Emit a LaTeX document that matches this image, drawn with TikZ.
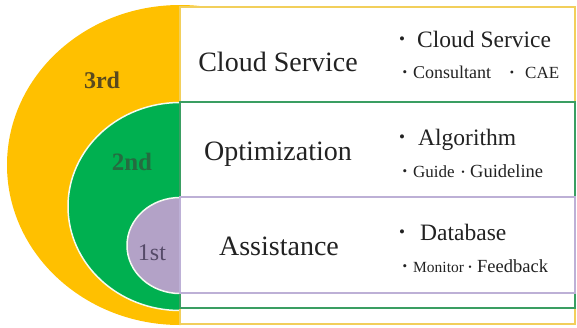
\documentclass[tikz,border=0pt]{standalone}
\usepackage{fontspec}
\setmainfont{Liberation Serif}
\definecolor{gold}{HTML}{FFC000}
\definecolor{grn}{HTML}{00B050}
\definecolor{purp}{HTML}{B3A2C7}
\definecolor{goldline}{HTML}{F2CF5B}
\definecolor{grnline}{HTML}{3A9E62}
\definecolor{purpline}{HTML}{BDB0D6}
\definecolor{edge}{HTML}{F4FBF0}
\definecolor{txt}{HTML}{222222}
\definecolor{lab3}{HTML}{5A4A1E}
\definecolor{lab2}{HTML}{256B40}
\definecolor{lab1}{HTML}{554A68}
\tikzset{
  boxc/.style={fill=white, line width=1.6pt},
  title/.style={anchor=base, inner sep=0pt, text=txt, font=\fontsize{28}{32}\selectfont},
  mainitem/.style={anchor=base west, inner sep=0pt, text=txt, font=\fontsize{23.5}{27}\selectfont},
  subitem/.style={anchor=base west, inner sep=0pt, text=txt, font=\fontsize{18}{21}\selectfont},
  dotc/.style={anchor=base, inner sep=0pt, text=txt},
  lvl/.style={anchor=base, inner sep=0pt, font=\fontsize{24}{28}\selectfont},
}
\begin{document}
\begin{tikzpicture}[x=1pt,y=-1pt]
\useasboundingbox (0,0) rectangle (577,327);
% half ellipses
\fill[gold] (180,165) ellipse[x radius=173, y radius=160];
\filldraw[fill=grn, draw=edge, line width=1.5pt] (180,206.5) ellipse[x radius=112, y radius=104];
\filldraw[fill=purp, draw=edge, line width=1.5pt] (180,245.5) ellipse[x radius=53, y radius=48];
% boxes
\draw[boxc, draw=goldline] (180,7) rectangle (575,324);
\draw[boxc, draw=grnline] (180,102) rectangle (575,308);
\draw[boxc, draw=purpline] (180,197) rectangle (575,293);
% level labels
\node[lvl, text=lab3, font=\bfseries\fontsize{24}{28}\selectfont] (l3) at (102,88) {3rd};
\node[lvl, text=lab2, font=\bfseries\fontsize{25}{28}\selectfont] (l2) at (132,170) {2nd};
\node[lvl, text=lab1] (l1) at (152,260) {1st};
% titles
\node[title] (t3) at (278,71) {Cloud Service};
\node[title] (t2) at (278,160) {Optimization};
\node[title] (t1) at (279,255) {Assistance};
% row 3
\node[dotc, font=\fontsize{17}{18}\selectfont] (b3) at (402,44) {•};
\node[mainitem] (m3) at (417,47) {Cloud Service};
\node[dotc, font=\fontsize{13}{14}\selectfont] (s3a) at (405,76.5) {•};
\node[subitem] (c3a) at (413,78) {Consultant};
\node[dotc, font=\fontsize{12}{14}\selectfont] (s3b) at (512,76) {•};
\node[subitem, font=\fontsize{17}{20}\selectfont] (c3b) at (525,78) {CAE};
% row 2
\node[dotc, font=\fontsize{17}{18}\selectfont] (b2) at (402,142) {•};
\node[mainitem] (m2) at (418,145) {Algorithm};
\node[dotc, font=\fontsize{13}{14}\selectfont] (s2a) at (405,175.5) {•};
\node[subitem, font=\fontsize{17}{20}\selectfont] (c2a) at (413,177) {Guide};
\node[dotc, font=\fontsize{10}{12}\selectfont] (s2b) at (463,175) {•};
\node[subitem, font=\fontsize{18.5}{21}\selectfont] (c2b) at (470,177) {Guideline};
% row 1
\node[dotc, font=\fontsize{17}{18}\selectfont] (b1) at (402,237) {•};
\node[mainitem] (m1) at (420,240) {Database};
\node[dotc, font=\fontsize{13}{14}\selectfont] (s1a) at (405,270.5) {•};
\node[subitem, font=\fontsize{15.5}{18}\selectfont] (c1a) at (413,272) {Monitor};
\node[dotc, font=\fontsize{10}{12}\selectfont] (s1b) at (470,270) {•};
\node[subitem, font=\fontsize{18.5}{21}\selectfont] (c1b) at (477,272) {Feedback};
\end{tikzpicture}
\end{document}
